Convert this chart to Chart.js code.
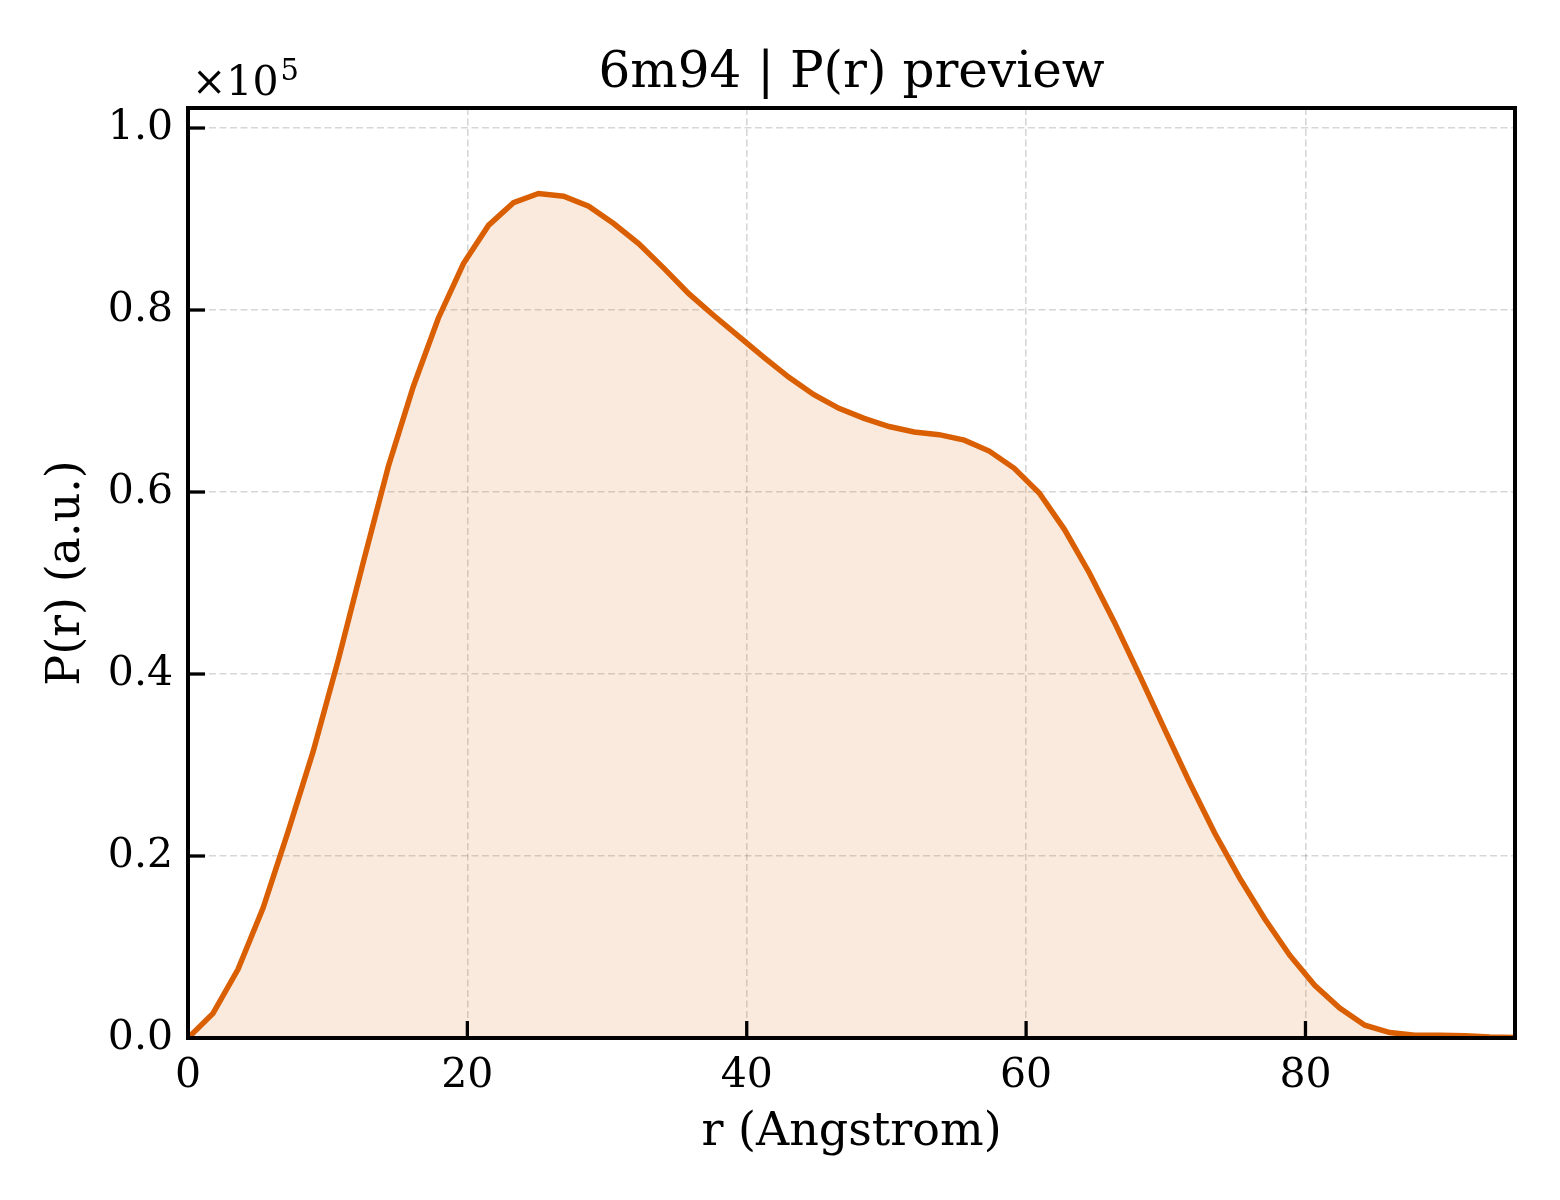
<!DOCTYPE html>
<html>
<head>
<meta charset="utf-8">
<title>6m94 | P(r) preview</title>
<script src="https://cdn.jsdelivr.net/npm/chart.js"></script>
<style>
  body { margin: 0; background: #ffffff; }
  canvas { display: block; }
</style>
</head>
<body>
<canvas id="prChart" width="1560" height="1200"></canvas>
<script>
// Datos: r en Angstrom, P(r) en unidades arbitrarias
const radios = [0, 1.79, 3.58, 5.38, 7.17, 8.96, 10.75, 12.55, 14.34, 16.13,
    17.92, 19.72, 21.51, 23.30, 25.09, 26.89, 28.68, 30.47, 32.26, 34.06,
    35.85, 37.64, 39.43, 41.23, 43.02, 44.81, 46.60, 48.40, 50.19, 51.98,
    53.77, 55.57, 57.36, 59.15, 60.94, 62.74, 64.53, 66.32, 68.11, 69.91,
    71.70, 73.49, 75.28, 77.08, 78.87, 80.66, 82.45, 84.25, 86.04, 87.83,
    89.62, 91.42, 93.21, 95.00];
const valoresPr = [0, 2700, 7550, 14300, 22700, 31500, 41500, 52300, 62800, 71600,
    79100, 85100, 89300, 91800, 92800, 92500, 91400, 89500, 87300, 84600,
    81800, 79400, 77100, 74800, 72600, 70700, 69200, 68100, 67200, 66600,
    66300, 65700, 64500, 62600, 59900, 55900, 51100, 45700, 39900, 33950,
    28100, 22560, 17600, 13100, 9100, 5800, 3300, 1400, 600, 300,
    300, 250, 100, 50];
const ticksX = [0, 20, 40, 60, 80];
const ticksY = [0, 20000, 40000, 60000, 80000, 100000];
const limiteX = 95;
const limiteY = 102200;
const escalaY = 1e5;
const titulo = '6m94 | P(r) preview';

const fuente = 'DejaVu Serif';
const puntos = radios.map(function(r, i) { return { x: r, y: valoresPr[i] }; });

// Marco completo, ticks hacia dentro, título centrado en el área y el texto ×10^5
const marcoPlugin = {
    id: 'marco',
    afterDraw: function(chart) {
        const ctx = chart.ctx;
        const area = chart.chartArea;
        const sx = chart.scales.x;
        const sy = chart.scales.y;
        ctx.save();
        ctx.strokeStyle = '#000000';
        ctx.lineWidth = 3.3;
        ticksX.forEach(function(v) {
            const px = sx.getPixelForValue(v);
            ctx.beginPath();
            ctx.moveTo(px, area.bottom);
            ctx.lineTo(px, area.bottom - 17);
            ctx.stroke();
        });
        ticksY.forEach(function(v) {
            const py = sy.getPixelForValue(v);
            ctx.beginPath();
            ctx.moveTo(area.left, py);
            ctx.lineTo(area.left + 17, py);
            ctx.stroke();
        });
        ctx.lineWidth = 4;
        ctx.strokeRect(area.left, area.top, area.right - area.left, area.bottom - area.top);

        ctx.fillStyle = '#000000';
        ctx.textBaseline = 'alphabetic';
        ctx.textAlign = 'center';
        ctx.font = '50px "' + fuente + '"';
        ctx.fillText(titulo, (area.left + area.right) / 2, 87);

        ctx.textAlign = 'left';
        ctx.font = '41px "' + fuente + '"';
        const base = '×10';
        ctx.fillText(base, area.left + 4, 95);
        const ancho = ctx.measureText(base).width;
        ctx.font = '29px "' + fuente + '"';
        ctx.fillText('5', area.left + 6 + ancho, 80);
        ctx.restore();
    }
};

const ctxPr = document.getElementById('prChart').getContext('2d');
const prChart = new Chart(ctxPr, {
    type: 'line',
    data: {
        datasets: [{
            label: 'P(r)',
            data: puntos,
            borderColor: '#d95f02',
            backgroundColor: 'rgba(217, 95, 2, 0.13)',
            borderWidth: 5.5,
            fill: 'origin',
            pointRadius: 0,
            tension: 0
        }]
    },
    options: {
        responsive: false,
        devicePixelRatio: 1,
        animation: false,
        layout: { padding: { left: 0, right: 45, top: 108, bottom: 0 } },
        plugins: {
            legend: { display: false },
            tooltip: { enabled: false },
            title: { display: false }
        },
        scales: {
            x: {
                type: 'linear',
                min: 0,
                max: limiteX,
                afterFit: function(scale) { scale.height = 162; },
                afterBuildTicks: function(scale) {
                    scale.ticks = ticksX.map(function(v) { return { value: v }; });
                },
                ticks: {
                    color: '#000000',
                    padding: 14,
                    maxRotation: 0,
                    font: { family: fuente, size: 41 },
                    callback: function(v) { return String(v); }
                },
                grid: {
                    drawTicks: false,
                    color: 'rgba(0, 0, 0, 0.16)',
                    lineWidth: 1.6
                },
                border: { display: false, dash: [7, 3.5] },
                title: {
                    display: true,
                    text: 'r (Angstrom)',
                    color: '#000000',
                    font: { family: fuente, size: 46, lineHeight: 1.2 },
                    padding: { top: 0, bottom: 39 }
                }
            },
            y: {
                type: 'linear',
                min: 0,
                max: limiteY,
                afterFit: function(scale) { scale.width = 188; },
                afterBuildTicks: function(scale) {
                    scale.ticks = ticksY.map(function(v) { return { value: v }; });
                },
                ticks: {
                    color: '#000000',
                    padding: 15,
                    font: { family: fuente, size: 41 },
                    callback: function(v) { return (v / escalaY).toFixed(1); }
                },
                grid: {
                    drawTicks: false,
                    color: 'rgba(0, 0, 0, 0.16)',
                    lineWidth: 1.6
                },
                border: { display: false, dash: [7, 3.5] },
                title: {
                    display: true,
                    text: 'P(r) (a.u.)',
                    color: '#000000',
                    font: { family: fuente, size: 46, lineHeight: 1.2 },
                    padding: { top: 39, bottom: 0 }
                }
            }
        }
    },
    plugins: [marcoPlugin]
});
</script>
</body>
</html>
